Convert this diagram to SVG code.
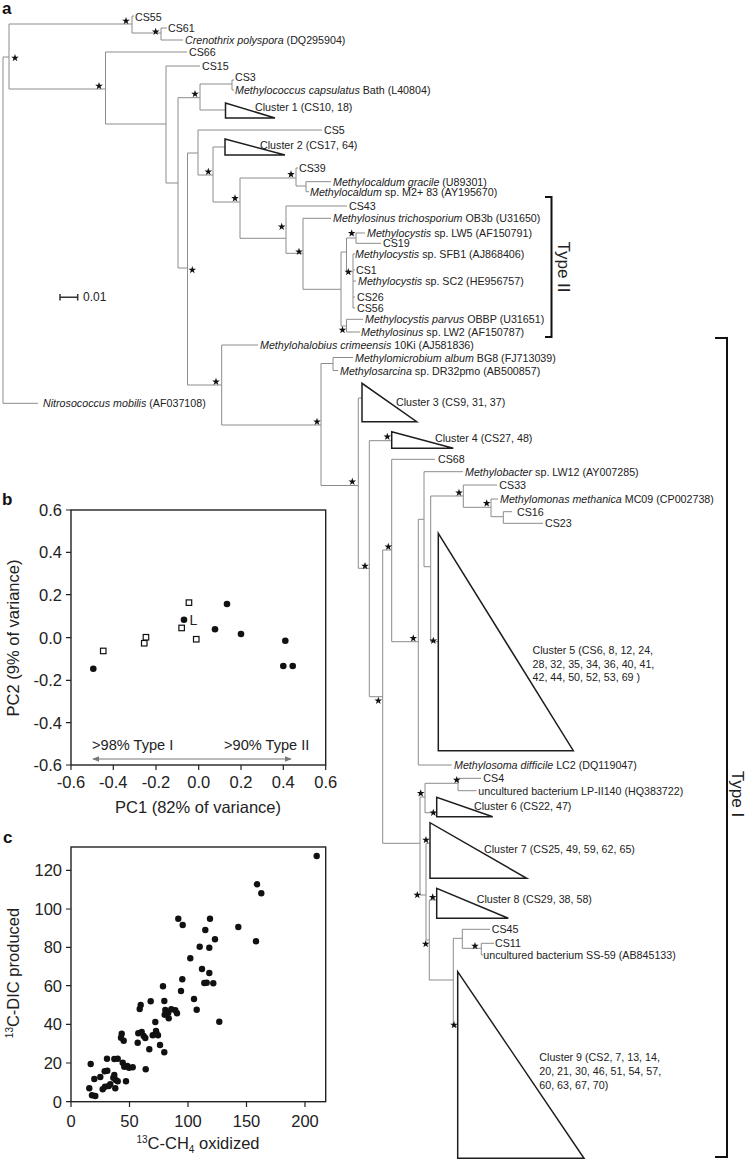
<svg xmlns="http://www.w3.org/2000/svg" xmlns:xlink="http://www.w3.org/1999/xlink" width="750" height="1161" viewBox="0 0 750 1161">
<style>
.br{stroke:#8c8c8c;stroke-width:1;fill:none}
.tri{stroke:#1e1e1e;stroke-width:1.5;fill:#fff;stroke-linejoin:miter}
.brk{stroke:#111;stroke-width:2;fill:none}
.t{font-family:"Liberation Sans",Arial,sans-serif;font-size:10.7px;fill:#222;dominant-baseline:central}
.i{font-style:italic}
.pl{font-family:"Liberation Sans",Arial,sans-serif;font-weight:bold;font-size:17px;fill:#111}
.ax{stroke:#222;stroke-width:1.4;fill:none}
.tk{font-family:"Liberation Sans",Arial,sans-serif;font-size:16.5px;fill:#222}
.ti{font-family:"Liberation Sans",Arial,sans-serif;font-size:16.5px;fill:#222}
.typ{font-family:"Liberation Sans",Arial,sans-serif;font-size:17px;fill:#222}
.sq{fill:#fff;stroke:#111;stroke-width:1.2}
.dot{fill:#111}
</style>
<defs>
<path id="star" d="M0,-4 L0.94,-1.29 L3.8,-1.24 L1.52,0.49 L2.35,3.24 L0,1.6 L-2.35,3.24 L-1.52,0.49 L-3.8,-1.24 L-0.94,-1.29 Z" fill="#111"/>
<marker id="ah" viewBox="0 0 10 10" refX="9" refY="5" markerWidth="6" markerHeight="6" orient="auto-start-reverse"><path d="M0,1 L10,5 L0,9 Z" fill="#777"/></marker>
</defs>
<rect width="750" height="1161" fill="#fff"/>

<text class="pl" x="2" y="14">a</text>

<!-- connectors: tree branches -->
<g id="connectors">
<path class="br" d="M3,57 H9 M3,57 V403.3 H38 M9,24 V89 M9,24 H132 M132,16 V33 M132,16 H134 M132,33 H161 M161,28 V40 M161,28 H167 M161,40 H183 M9,89 H105.5 M105.5,52 V124 M105.5,52 H187 M105.5,124 H166 M166,66 V183 M166,66 H200 M166,183 H178"/>
<path class="br" d="M178,97.7 V268 M178,97.7 H200 M200,84 V110 M200,84 H232 M232,80 V90 M232,80 H234 M232,90 H234 M200,110 H225.5 M178,268 H187.5 M187.5,153 V385 M187.5,153 H198 M198,130 V175 M198,130 H322 M198,175 H213 M213,147 V202 M213,147 H225 M213,202 H240 M240,178 V238.3 M240,178 H296 M296,168 V186 M296,168 H298 M296,186 H306 M306,181.7 V191.7 M306,181.7 H331 M306,191.7 H309 M240,238.3 H286 M286,206 V253.3 M286,206 H347 M286,253.3 H303 M303,218.3 V289.3 M303,218.3 H331 M303,289.3 H341 M341,252 V326 M341,252 H346.5 M346.5,238 V271.7 M346.5,238 H356 M356,233 V243.3 M356,233 H365 M356,243.3 H381 M346.5,271.7 H353 M353,254 V308 M353,254 H355 M353,270 H355 M353,281 H356 M353,297 H355 M353,308 H355 M341,326 H346.5 M346.5,319.3 V332 M346.5,319.3 H363 M346.5,332 H360"/>
<path class="br" d="M187.5,385 H221.7 M221.7,345 V425 M221.7,345 H258 M221.7,425 H321 M321,363.5 V485.5 M321,363.5 H333 M333,357.5 V370.5 M333,357.5 H353 M333,370.5 H338 M321,485.5 H358.3 M358.3,398 V568.3 M358.3,398 H362 M358.3,568.3 H369.3 M369.3,440.7 V696.7 M369.3,440.7 H391.7 M369.3,696.7 H382.7 M382.7,550 V843.3 M382.7,550 H391.7 M391.7,459.3 V641.7 M391.7,459.3 H435 M391.7,641.7 H418.3 M418.3,519.3 V765 M418.3,519.3 H424 M418.3,765 H451.7 M424,471.7 V566.7 M424,471.7 H463 M424,566.7 H430.7 M430.7,496 V641.7 M430.7,496 H463.3 M430.7,641.7 H438.3 M463.3,485 V507.3 M463.3,485 H497 M463.3,507.3 H491 M491,499 V516.7 M491,499 H498 M491,516.7 H503.3 M503.3,511.7 V523.3 M503.3,511.7 H512 M503.3,523.3 H543"/>
<path class="br" d="M382.7,843.3 H420 M420,797 V895 M420,797 H425 M425,783.3 V812.7 M425,783.3 H458 M458,778.3 V790.7 M458,778.3 H481 M458,790.7 H476.5 M425,812.7 H436.7 M420,895 H426 M426,843.3 V940 M426,843.3 H430 M426,940 H429.3 M429.3,900 V980 M429.3,900 H436.7 M429.3,980 H453.3 M453.3,938.3 V1026.7 M453.3,938.3 H462.3 M462.3,929.3 V948.3 M462.3,929.3 H490 M462.3,948.3 H481.3 M481.3,943.3 V955 M481.3,943.3 H494 M481.3,955 H483 M453.3,1026.7 H457.7"/>
</g>

<!-- support stars -->
<g id="stars">
<use href="#star" x="15" y="58"/>
<use href="#star" x="126" y="21"/>
<use href="#star" x="155.7" y="31.7"/>
<use href="#star" x="99" y="86"/>
<use href="#star" x="195" y="94"/>
<use href="#star" x="208.3" y="171.7"/>
<use href="#star" x="192.3" y="270"/>
<use href="#star" x="235" y="198.3"/>
<use href="#star" x="291" y="174.3"/>
<use href="#star" x="281.7" y="226.7"/>
<use href="#star" x="299" y="251.7"/>
<use href="#star" x="351.7" y="233.3"/>
<use href="#star" x="348.3" y="272"/>
<use href="#star" x="342.5" y="330"/>
<use href="#star" x="216" y="381.7"/>
<use href="#star" x="317" y="421.7"/>
<use href="#star" x="352.3" y="481.7"/>
<use href="#star" x="387.3" y="436.7"/>
<use href="#star" x="365" y="566"/>
<use href="#star" x="388.3" y="546.7"/>
<use href="#star" x="459" y="492.7"/>
<use href="#star" x="486.7" y="503.3"/>
<use href="#star" x="413.3" y="638.3"/>
<use href="#star" x="433.3" y="640.7"/>
<use href="#star" x="378.3" y="700.7"/>
<use href="#star" x="456.7" y="780"/>
<use href="#star" x="420.7" y="793.3"/>
<use href="#star" x="433.3" y="812.7"/>
<use href="#star" x="426" y="840"/>
<use href="#star" x="417.3" y="895"/>
<use href="#star" x="432.7" y="897.3"/>
<use href="#star" x="425.7" y="944"/>
<use href="#star" x="475" y="946"/>
<use href="#star" x="454" y="1025"/>
</g>

<!-- leaves -->
<g id="CS55"><text class="t" x="135" y="16.5">CS55</text></g>
<g id="CS61"><text class="t" x="168" y="28">CS61</text></g>
<g id="Crenothrix"><text class="t" x="185" y="40"><tspan class="i">Crenothrix polyspora</tspan> (DQ295904)</text></g>
<g id="CS66"><text class="t" x="189" y="52">CS66</text></g>
<g id="CS15"><text class="t" x="202" y="66">CS15</text></g>
<g id="CS3"><text class="t" x="235" y="77">CS3</text></g>
<g id="Mcapsulatus"><text class="t" x="235" y="90"><tspan class="i">Methylococcus capsulatus</tspan> Bath (L40804)</text></g>
<g id="Cluster1"><path class="tri" d="M225.5,103 L225.5,118 L275,118 Z"/><text class="t" x="255" y="107">Cluster 1 (CS10, 18)</text></g>
<g id="CS5"><text class="t" x="324" y="130">CS5</text></g>
<g id="Cluster2"><path class="tri" d="M225,139 L225,155 L285,155 Z"/><text class="t" x="260" y="145">Cluster 2 (CS17, 64)</text></g>
<g id="CS39"><text class="t" x="299" y="168">CS39</text></g>
<g id="Mgracile"><text class="t" x="333" y="181.7"><tspan class="i">Methylocaldum gracile</tspan> (U89301)</text></g>
<g id="MsM2"><text class="t" x="310" y="191.7"><tspan class="i">Methylocaldum</tspan> sp. M2+ 83 (AY195670)</text></g>
<g id="CS43"><text class="t" x="349" y="206">CS43</text></g>
<g id="Mtricho"><text class="t" x="333" y="218.3"><tspan class="i">Methylosinus trichosporium</tspan> OB3b (U31650)</text></g>
<g id="LW5"><text class="t" x="367" y="233"><tspan class="i">Methylocystis</tspan> sp. LW5 (AF150791)</text></g>
<g id="CS19"><text class="t" x="383" y="243.3">CS19</text></g>
<g id="SFB1"><text class="t" x="355" y="254"><tspan class="i">Methylocystis</tspan> sp. SFB1 (AJ868406)</text></g>
<g id="CS1"><text class="t" x="356" y="270">CS1</text></g>
<g id="SC2"><text class="t" x="358" y="281"><tspan class="i">Methylocystis</tspan> sp. SC2 (HE956757)</text></g>
<g id="CS26"><text class="t" x="357" y="296.7">CS26</text></g>
<g id="CS56"><text class="t" x="357" y="307.7">CS56</text></g>
<g id="Mparvus"><text class="t" x="365" y="319.3"><tspan class="i">Methylocystis parvus</tspan> OBBP (U31651)</text></g>
<g id="LW2"><text class="t" x="361" y="332"><tspan class="i">Methylosinus</tspan> sp. LW2 (AF150787)</text></g>
<g id="Mcrimeensis"><text class="t" x="260" y="345"><tspan class="i">Methylohalobius crimeensis</tspan> 10Ki (AJ581836)</text></g>
<g id="Malbum"><text class="t" x="355" y="357.5"><tspan class="i">Methylomicrobium album</tspan> BG8 (FJ713039)</text></g>
<g id="Msarcina"><text class="t" x="340" y="370.5"><tspan class="i">Methylosarcina</tspan> sp. DR32pmo (AB500857)</text></g>
<g id="Nitrosococcus"><text class="t" x="43" y="403.3"><tspan class="i">Nitrosococcus mobilis</tspan> (AF037108)</text></g>
<g id="Cluster3"><path class="tri" d="M362,383.3 L362,421.7 L416.7,421.7 Z"/><text class="t" x="396" y="401.7">Cluster 3 (CS9, 31, 37)</text></g>
<g id="Cluster4"><path class="tri" d="M391.7,431.7 L391.7,448.3 L453.3,448.3 Z"/><text class="t" x="435" y="438.3">Cluster 4 (CS27, 48)</text></g>
<g id="CS68"><text class="t" x="438" y="459.3">CS68</text></g>
<g id="LW12"><text class="t" x="465" y="471.7"><tspan class="i">Methylobacter</tspan> sp. LW12 (AY007285)</text></g>
<g id="CS33"><text class="t" x="499.3" y="485">CS33</text></g>
<g id="Mmethanica"><text class="t" x="500" y="499"><tspan class="i">Methylomonas methanica</tspan> MC09 (CP002738)</text></g>
<g id="CS16"><text class="t" x="517" y="511.7">CS16</text></g>
<g id="CS23"><text class="t" x="545" y="523.3">CS23</text></g>
<g id="Cluster5"><path class="tri" d="M438.3,533.3 L438.3,750.7 L573.3,750.7 Z"/><text class="t" x="532.5" y="650">Cluster 5 (CS6, 8, 12, 24,</text><text class="t" x="532.5" y="663.5">28, 32, 35, 34, 36, 40, 41,</text><text class="t" x="532.5" y="677.3">42, 44, 50, 52, 53, 69 )</text></g>
<g id="Mdifficile"><text class="t" x="454" y="765"><tspan class="i">Methylosoma difficile</tspan> LC2 (DQ119047)</text></g>
<g id="CS4"><text class="t" x="483.3" y="778.3">CS4</text></g>
<g id="LPII140"><text class="t" x="478.3" y="790.7">uncultured bacterium LP-II140 (HQ383722)</text></g>
<g id="Cluster6"><path class="tri" d="M436.7,797.3 L436.7,816.7 L492.7,816.7 Z"/><text class="t" x="474" y="805.7">Cluster 6 (CS22, 47)</text></g>
<g id="Cluster7"><path class="tri" d="M430,822.7 L430,878.3 L526.7,878.3 Z"/><text class="t" x="484" y="849">Cluster 7 (CS25, 49, 59, 62, 65)</text></g>
<g id="Cluster8"><path class="tri" d="M436.7,888.3 L436.7,918.3 L508.3,918.3 Z"/><text class="t" x="476.7" y="899.3">Cluster 8 (CS29, 38, 58)</text></g>
<g id="CS45"><text class="t" x="491.7" y="929.3">CS45</text></g>
<g id="CS11"><text class="t" x="495" y="943.3">CS11</text></g>
<g id="SS59"><text class="t" x="483.3" y="955">uncultured bacterium SS-59 (AB845133)</text></g>
<g id="Cluster9"><path class="tri" d="M457.7,971.7 L457.7,1158.3 L584,1158.3 Z"/><text class="t" x="539.3" y="1056.7">Cluster 9 (CS2, 7, 13, 14,</text><text class="t" x="539.3" y="1070.7">20, 21, 30, 46, 51, 54, 57,</text><text class="t" x="539.3" y="1085">60, 63, 67, 70)</text></g>

<!-- scale bar -->
<g id="scalebar">
<path d="M60,297.3 H77.7 M60,294 V300.6 M77.7,294 V300.6" stroke="#333" stroke-width="1.5" fill="none"/>
<text class="t" x="83" y="297.3" style="font-size:12px">0.01</text>
</g>

<!-- brackets -->
<g id="TypeII"><path class="brk" d="M545,197 H551.5 V337 H545"/><text class="typ" transform="translate(563,267) rotate(90)" text-anchor="middle" dominant-baseline="central">Type II</text></g>
<g id="TypeI"><path class="brk" d="M715,338 H727 V1157 H715"/><text class="typ" transform="translate(737,794) rotate(90)" text-anchor="middle" dominant-baseline="central">Type I</text></g>

<!-- panel b -->
<text class="pl" x="2" y="505">b</text>
<g id="plotb">
<rect class="ax" x="71" y="510" width="254.7" height="255"/>
<path stroke="#222" stroke-width="1.2" d="M66,510 H71 M66,552.3 H71 M66,594.7 H71 M66,637.7 H71 M66,680.3 H71 M66,722.7 H71 M66,765 H71 M71,765 V770 M113.3,765 V770 M156,765 V770 M198.7,765 V770 M241,765 V770 M283.3,765 V770 M325.7,765 V770"/>
<g class="tk" text-anchor="end">
<text x="62" y="516">0.6</text><text x="62" y="558.3">0.4</text><text x="62" y="600.7">0.2</text><text x="62" y="643.7">0.0</text><text x="62" y="686.3">-0.2</text><text x="62" y="728.7">-0.4</text><text x="62" y="771">-0.6</text>
</g>
<g class="tk" text-anchor="middle">
<text x="71" y="788">-0.6</text><text x="113.3" y="788">-0.4</text><text x="156" y="788">-0.2</text><text x="198.7" y="788">0.0</text><text x="241" y="788">0.2</text><text x="283.3" y="788">0.4</text><text x="325.7" y="788">0.6</text>
</g>
<text class="ti" x="198" y="813" text-anchor="middle">PC1 (82% of variance)</text>
<text class="ti" transform="translate(19,638) rotate(-90)" text-anchor="middle">PC2 (9% of variance)</text>
<line x1="93" y1="759" x2="291" y2="759" stroke="#777" stroke-width="1.2" marker-start="url(#ah)" marker-end="url(#ah)"/>
<text class="ti" x="92" y="750" style="font-size:14.6px">&gt;98% Type I</text>
<text class="ti" x="224" y="750" style="font-size:14.6px">&gt;90% Type II</text>
<g>
<rect class="sq" x="100.5" y="648.2" width="5.5" height="5.5"/>
<rect class="sq" x="141.5" y="640.5" width="5.5" height="5.5"/>
<rect class="sq" x="143.2" y="634.5" width="5.5" height="5.5"/>
<rect class="sq" x="178.9" y="625.2" width="5.5" height="5.5"/>
<rect class="sq" x="186.2" y="599.9" width="5.5" height="5.5"/>
<rect class="sq" x="193.5" y="636.5" width="5.5" height="5.5"/>
<circle class="dot" cx="93.3" cy="668.7" r="3.3"/>
<circle class="dot" cx="184" cy="619.7" r="3.3"/>
<circle class="dot" cx="215" cy="629.3" r="3.3"/>
<circle class="dot" cx="227" cy="604" r="3.3"/>
<circle class="dot" cx="241" cy="634" r="3.3"/>
<circle class="dot" cx="285.3" cy="640.7" r="3.3"/>
<circle class="dot" cx="283.3" cy="666" r="3.3"/>
<circle class="dot" cx="292.7" cy="666" r="3.3"/>
</g>
<text class="ti" x="189.5" y="624.5" style="font-size:14px">L</text>
</g>

<!-- panel c -->
<text class="pl" x="3" y="843">c</text>
<g id="plotc">
<rect class="ax" x="71" y="847" width="254.7" height="254.7"/>
<path stroke="#222" stroke-width="1.2" d="M66,1101.7 H71 M66,1063 H71 M66,1024.3 H71 M66,985.7 H71 M66,947.3 H71 M66,909 H71 M66,870.3 H71 M71,1101.7 V1107 M129.5,1101.7 V1107 M188,1101.7 V1107 M246.5,1101.7 V1107 M305,1101.7 V1107"/>
<g class="tk" text-anchor="end">
<text x="62" y="1107.7">0</text><text x="62" y="1069">20</text><text x="62" y="1030.3">40</text><text x="62" y="991.7">60</text><text x="62" y="953.3">80</text><text x="62" y="915">100</text><text x="62" y="876.3">120</text>
</g>
<g class="tk" text-anchor="middle">
<text x="71" y="1127">0</text><text x="129.5" y="1127">50</text><text x="188" y="1127">100</text><text x="246.5" y="1127">150</text><text x="305" y="1127">200</text>
</g>
<text class="ti" x="198" y="1149" text-anchor="middle"><tspan font-size="10" dy="-6">13</tspan><tspan dy="6">C-CH</tspan><tspan font-size="10" dy="4">4</tspan><tspan dy="-4"> oxidized</tspan></text>
<text class="ti" transform="translate(19,973) rotate(-90)" text-anchor="middle"><tspan font-size="10" dy="-6">13</tspan><tspan dy="6">C-DIC produced</tspan></text>
<g class="dot">
<circle cx="90.7" cy="1064" r="3.2"/><circle cx="89.3" cy="1088.3" r="3.2"/><circle cx="92" cy="1095.3" r="3.2"/><circle cx="95.3" cy="1096" r="3.2"/>
<circle cx="94.3" cy="1079" r="3.2"/><circle cx="100.3" cy="1077" r="3.2"/><circle cx="104.7" cy="1071.3" r="3.2"/><circle cx="107.3" cy="1070.7" r="3.2"/>
<circle cx="107" cy="1058.7" r="3.2"/><circle cx="102.7" cy="1089.3" r="3.2"/><circle cx="105" cy="1086.7" r="3.2"/><circle cx="110.3" cy="1084.3" r="3.2"/>
<circle cx="108.7" cy="1086" r="3.2"/><circle cx="113.3" cy="1077.7" r="3.2"/><circle cx="114.3" cy="1075" r="3.2"/><circle cx="114.3" cy="1059" r="3.2"/>
<circle cx="117.7" cy="1058.7" r="3.2"/><circle cx="115.3" cy="1088.3" r="3.2"/><circle cx="115.7" cy="1080" r="3.2"/><circle cx="117.7" cy="1081.3" r="3.2"/>
<circle cx="122.7" cy="1062.7" r="3.2"/><circle cx="124.3" cy="1066.7" r="3.2"/><circle cx="126" cy="1081.3" r="3.2"/><circle cx="127.3" cy="1066" r="3.2"/>
<circle cx="129" cy="1067.7" r="3.2"/><circle cx="132.7" cy="1067.3" r="3.2"/><circle cx="121.7" cy="1033.7" r="3.2"/><circle cx="121" cy="1037.7" r="3.2"/>
<circle cx="123.7" cy="1040.7" r="3.2"/><circle cx="140.7" cy="1005" r="3.2"/><circle cx="139.7" cy="1009" r="3.2"/><circle cx="138.3" cy="1033.3" r="3.2"/>
<circle cx="141.7" cy="1032" r="3.2"/><circle cx="145.3" cy="1038" r="3.2"/><circle cx="143.7" cy="1036" r="3.2"/><circle cx="137.7" cy="1042.7" r="3.2"/>
<circle cx="145.7" cy="1069.3" r="3.2"/><circle cx="150.7" cy="1001.3" r="3.2"/><circle cx="149.3" cy="1049.3" r="3.2"/><circle cx="155.3" cy="1022" r="3.2"/>
<circle cx="156" cy="1031" r="3.2"/><circle cx="158" cy="1035.3" r="3.2"/><circle cx="156.3" cy="1032.7" r="3.2"/><circle cx="152.7" cy="1035.3" r="3.2"/>
<circle cx="160" cy="1045" r="3.2"/><circle cx="163" cy="986.3" r="3.2"/><circle cx="164.3" cy="1001" r="3.2"/><circle cx="164.7" cy="1014.7" r="3.2"/>
<circle cx="164.3" cy="1052.3" r="3.2"/><circle cx="165.3" cy="1010" r="3.2"/><circle cx="168.3" cy="1012.7" r="3.2"/><circle cx="168.7" cy="1018.3" r="3.2"/>
<circle cx="171.3" cy="1009.3" r="3.2"/><circle cx="175.3" cy="1010.3" r="3.2"/><circle cx="177" cy="1013.3" r="3.2"/><circle cx="178.3" cy="918.7" r="3.2"/>
<circle cx="182.7" cy="925" r="3.2"/><circle cx="181" cy="991" r="3.2"/><circle cx="182.3" cy="979.3" r="3.2"/><circle cx="190.3" cy="958.3" r="3.2"/>
<circle cx="194" cy="999" r="3.2"/><circle cx="196.7" cy="1009.7" r="3.2"/><circle cx="199.7" cy="946.7" r="3.2"/><circle cx="202" cy="969" r="3.2"/>
<circle cx="204.3" cy="983" r="3.2"/><circle cx="205.3" cy="930" r="3.2"/><circle cx="206.7" cy="982.7" r="3.2"/><circle cx="209.3" cy="947.7" r="3.2"/>
<circle cx="210" cy="918.7" r="3.2"/><circle cx="209.3" cy="973" r="3.2"/><circle cx="213.3" cy="983.3" r="3.2"/><circle cx="215" cy="939.3" r="3.2"/>
<circle cx="219.3" cy="1021.7" r="3.2"/><circle cx="238.3" cy="927" r="3.2"/><circle cx="256" cy="941.3" r="3.2"/><circle cx="257" cy="884.3" r="3.2"/>
<circle cx="261.3" cy="893.3" r="3.2"/><circle cx="316.7" cy="856" r="3.2"/>
</g>
</g>
</svg>
